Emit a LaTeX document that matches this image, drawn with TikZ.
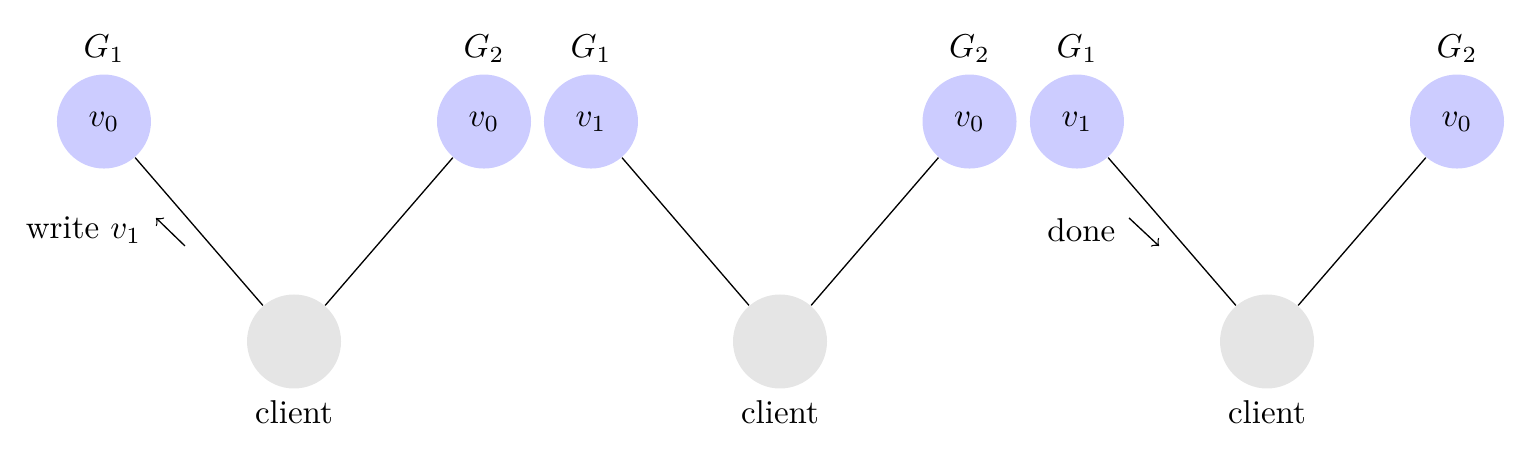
\documentclass[tikz,border=0pt]{standalone}
\usepackage{tikz}

\tikzset{
  replica/.style={circle, fill=blue!20, minimum size=1cm, inner sep=0pt},
  client/.style={circle, fill=gray!20, minimum size=1cm, inner sep=0pt}
}

\begin{document}
\begin{tikzpicture}[scale=1]

  \useasboundingbox (0,0) rectangle (16.383,5);

  % --- First state ---
  \node[replica, label=above:$G_1$] (ga) at (1.106,3.707) {$v_0$};
  \node[replica, label=above:$G_2$] (gb) at (5.149,3.707) {$v_0$};
  \node[client, label=below:client] (ca) at (3.128,1.367) {};
  \draw (ga) -- (ca);
  \draw (gb) -- (ca);
  \coordinate (wfrom) at (1.968,2.383);
  \coordinate (wto) at (1.660,2.681);
  \draw[->] (wfrom) -- (wto);
  \node[anchor=east] (wlabel) at (1.626,2.552) {write $v_1$};

  % --- Second state ---
  \node[replica, label=above:$G_1$] (gc) at (6.287,3.707) {$v_1$};
  \node[replica, label=above:$G_2$] (gd) at (10.314,3.707) {$v_0$};
  \node[client, label=below:client] (cb) at (8.298,1.367) {};
  \draw (gc) -- (cb);
  \draw (gd) -- (cb);

  % --- Third state ---
  \node[replica, label=above:$G_1$] (ge) at (11.457,3.707) {$v_1$};
  \node[replica, label=above:$G_2$] (gf) at (15.500,3.707) {$v_0$};
  \node[client, label=below:client] (cc) at (13.479,1.367) {};
  \draw (ge) -- (cc);
  \draw (gf) -- (cc);
  \coordinate (dfrom) at (12.011,2.681);
  \coordinate (dto) at (12.330,2.383);
  \draw[->] (dfrom) -- (dto);
  \node[anchor=east] (dlabel) at (11.989,2.552) {done};

\end{tikzpicture}
\end{document}
